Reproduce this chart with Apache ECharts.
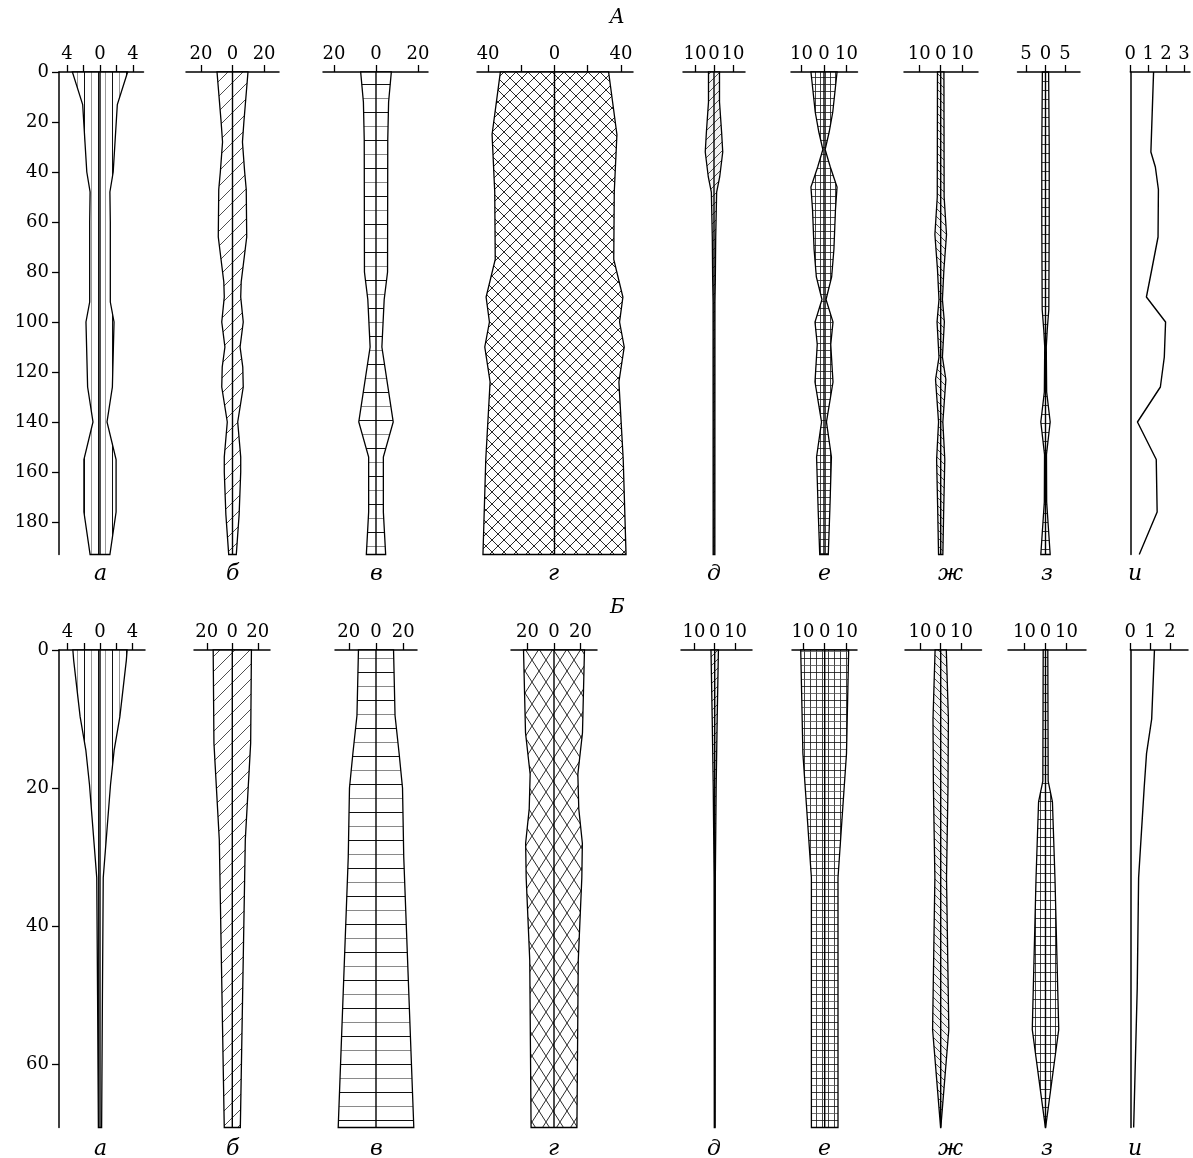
<!DOCTYPE html>
<html><head><meta charset="utf-8">
<script src="https://cdn.jsdelivr.net/npm/echarts@6/dist/echarts.min.js"></script>
<style>html,body{margin:0;padding:0;background:#fff}#c{width:1193px;height:1158px}</style>
</head><body><div id="c"></div>
<script>
// ================= DATA =================
const panelTitles = ['A', 'Б'];
const subLabels = ['а', 'б', 'в', 'г', 'д', 'е', 'ж', 'з', 'и'];

// y-axis tick labels (depth)
const yTicksTop = [0, 20, 40, 60, 80, 100, 120, 140, 160, 180];
const yTicksBot = [0, 20, 40, 60];
const depthMaxTop = 193;
const depthMaxBot = 69.2;

// x tick / label values
const xTicksTop = [[-4,-2,0,2,4],[-20,0,20],[-20,0,20],[-40,-20,0,20,40],[-10,0,10],[-10,0,10],[-10,0,10],[-5,0,5],[0,1,2,3]];
const xLabelsTop = [[-4,0,4],[-20,0,20],[-20,0,20],[-40,0,40],[-10,0,10],[-10,0,10],[-10,0,10],[-5,0,5],[0,1,2,3]];
const xTicksBot = [[-4,-2,0,2,4],[-20,0,20],[-20,0,20],[-20,0,20],[-10,0,10],[-10,0,10],[-10,0,10],[-10,0,10],[0,1,2]];
const xLabelsBot = [[-4,0,4],[-20,0,20],[-20,0,20],[-20,0,20],[-10,0,10],[-10,0,10],[-10,0,10],[-10,0,10],[0,1,2]];

// Panel A profiles (depth, half-width value)
const A_a_d = [0,13,40,48,60,80,92,100,126,140,155,176,193];
const A_a_v = [3.35,2.1,1.6,1.2,1.25,1.25,1.25,1.7,1.5,0.85,1.95,1.95,1.2];
const A_b_d = [0,20,28,40,47,66,84,90,100,110,118,126,140,154,160,177,193];
const A_b_v = [9.8,7.2,6.3,7.7,8.7,9,5.5,5.2,6.8,4.8,6.5,6.8,3.3,5.2,5.2,4.2,2.4];
const A_v_d = [0,12,27,80,91,110,140,154,176,193];
const A_v_v = [7.3,6,5.6,5.5,3.9,2.8,8.2,3.5,3.5,4.6];
const A_g_d = [0,25,48,75,90,100,110,124,155,193];
const A_g_v = [32.6,37.6,36,35.7,41.2,39.2,42,38.8,41.4,43.1];
const A_dd_d = [0,12,24,32,42,48,66,83,92,193];
const A_dd_v = [2.9,2.9,4,4.6,3,1.4,0.9,0.7,0.5,0.45];
const A_e_d = [0,16,24,31,38,46,55,71,82,91,100,109,124,140,154,175,193];
const A_e_v = [5.8,3.9,2.3,0.5,2.8,5.8,5.1,4.4,3.4,0.9,4.0,3.0,4.0,1.1,3.3,2.6,1.9];
const A_zh_d = [0,50,65,79,91,100,114,123,140,155,175,193];
const A_zh_v = [1.5,1.6,2.7,1.5,0.8,1.7,0.8,2.4,1.0,1.9,1.4,1.0];
const A_z_d = [0,30,60,95,103,110,128,140,153,172,193];
const A_z_v = [0.8,0.95,0.95,0.85,0.45,0.2,0.3,1.2,0.25,0.3,1.2];
const A_i_d = [0,32,38,47,66,79,90,100,114,126,140,155,176,193];
const A_i_v = [1.3,1.15,1.4,1.57,1.55,1.2,0.9,1.97,1.9,1.68,0.4,1.45,1.5,0.5];

// Panel Б profiles
const B_a_d = [0,1.5,9.7,14.5,19.5,33,50,69.2];
const B_a_v = [3.35,3.25,2.45,1.75,1.3,0.4,0.3,0.2];
const B_b_d = [0,13.5,27.5,69.2];
const B_b_v = [15,14.4,10.2,6.3];
const B_v_d = [0,9.5,15,20,30,69.2];
const B_v_v = [12.9,14,17,19.5,20.4,27.8];
const B_g_d = [0,12,18,23,28,33,45,69.2];
const B_g_v = [23,21.5,18,18.7,21.4,21,18.3,17.3];
const B_dd_d = [0,10,20,33,69.2];
const B_dd_v = [1.8,1.2,0.7,0.3,0.2];
const B_e_d = [0,15,33,69.2];
const B_e_v = [11,10,6.1,6.1];
const B_zh_d = [0,10,20,33,55,69.2];
const B_zh_v = [2.7,3.7,3.5,2.8,3.9,0.05];
const B_z_d = [0,19,22,33,55,69.2];
const B_z_v = [1.1,1.27,3.3,4.5,6.3,0.05];
const B_i_d = [0,10,15,20,33,49,69.2];
const B_i_v = [1.22,1.08,0.82,0.7,0.42,0.35,0.17];

// ================= LAYOUT / STYLE =================
// per sub-chart: zero pixel, px per unit, axis left px, axis right px
const layoutTop = [
  [100, 8.25, 59, 143.5], [232.5, 1.58, 186, 279], [376, 2.1, 323, 428], [554.5, 1.66, 477, 633],
  [714, 1.9, 683, 745], [824, 2.25, 791, 857.5], [940.7, 2.15, 904, 978], [1045.5, 3.9, 1017.5, 1080],
  [1130.3, 17.9, 1130.3, 1190]
];
const layoutBot = [
  [100, 8.1, 59, 145], [232.3, 1.275, 194, 270], [376, 1.36, 335, 417], [554, 1.325, 511, 597],
  [714.7, 2.07, 681, 752], [824.7, 2.18, 792, 857], [940.7, 2.08, 905, 981.5], [1045.5, 2.1, 1008, 1086],
  [1130.3, 19.8, 1130.3, 1188]
];
const labelXs = [100, 232, 376, 554, 713, 824, 944, 1047, 1134];
const FONT = 'DejaVu Serif';

function mkPattern(w, h, draw, bg) {
  const c = document.createElement('canvas');
  c.width = w; c.height = h;
  const ctx = c.getContext('2d');
  ctx.fillStyle = bg || '#fff'; ctx.fillRect(0, 0, w, h);
  draw(ctx, w, h);
  return { image: c, repeat: 'repeat' };
}
function ln(ctx, x1, y1, x2, y2, col, lw) {
  ctx.beginPath(); ctx.strokeStyle = col; ctx.lineWidth = lw; ctx.moveTo(x1, y1); ctx.lineTo(x2, y2); ctx.stroke();
}
function diagUp(col, lw) { return (ctx, w, h) => { ln(ctx, 0, h, w, 0, col, lw); ln(ctx, -2, 2, 2, -2, col, lw); ln(ctx, w-2, h+2, w+2, h-2, col, lw); }; }
function diagDown(col, lw) { return (ctx, w, h) => { ln(ctx, 0, 0, w, h, col, lw); ln(ctx, -2, h-2, 2, h+2, col, lw); ln(ctx, w-2, -2, w+2, 2, col, lw); }; }

const P = {
  vert: mkPattern(14, 4, (c, w, h) => { ln(c, 0.5, 0, 0.5, h, '#111', 1); ln(c, 7.5, 0, 7.5, h, '#9a9a9a', 1); }),
  diagB: mkPattern(15, 15, diagUp('#222', 0.8)),
  horiz: mkPattern(4, 28, (c, w, h) => { ln(c, 0, 0.5, w, 0.5, '#111', 1); ln(c, 0, 14.5, w, 14.5, '#8a8a8a', 1); }),
  crossTop: mkPattern(12, 12, (c, w, h) => { ln(c, 0, 0, w, h, '#111', 0.9); ln(c, 0, h, w, 0, '#111', 0.9); }),
  crossBot: mkPattern(14, 22, (c, w, h) => { ln(c, 0, 0, w, h, '#111', 0.9); ln(c, 0, h, w, 0, '#111', 0.9); }),
  diagD: mkPattern(9, 9, diagUp('#222', 0.8), '#f2f2f2'),
  gridE: mkPattern(5, 7, (c, w, h) => { ln(c, 0.5, 0, 0.5, h, '#111', 0.8); ln(c, 0, 0.5, w, 0.5, '#222', 0.8); }),
  gridEb: mkPattern(6, 14, (c, w, h) => { ln(c, 0.5, 0, 0.5, h, '#111', 0.8); ln(c, 0, 0.5, w, 0.5, '#111', 0.8); ln(c, 0, 7.5, w, 7.5, '#555', 0.8); }),
  diagZh: mkPattern(8, 8, diagDown('#222', 0.8), '#f2f2f2'),
  gridZ: mkPattern(5, 9, (c, w, h) => { ln(c, 0.5, 0, 0.5, h, '#111', 0.8); ln(c, 0, 0.5, w, 0.5, '#111', 0.8); })
};

const panels = [
  { top: 72, depthMax: depthMaxTop, yTicks: yTicksTop, layout: layoutTop, xt: xTicksTop, xl: xLabelsTop, labelY: 576, titleY: 19,
    profiles: [[A_a_d, A_a_v], [A_b_d, A_b_v], [A_v_d, A_v_v], [A_g_d, A_g_v], [A_dd_d, A_dd_v], [A_e_d, A_e_v], [A_zh_d, A_zh_v], [A_z_d, A_z_v], [A_i_d, A_i_v]],
    pats: [P.vert, P.diagB, P.horiz, P.crossTop, P.diagD, P.gridE, P.diagZh, P.gridZ, null] },
  { top: 650, depthMax: depthMaxBot, yTicks: yTicksBot, layout: layoutBot, xt: xTicksBot, xl: xLabelsBot, labelY: 1151, titleY: 609,
    profiles: [[B_a_d, B_a_v], [B_b_d, B_b_v], [B_v_d, B_v_v], [B_g_d, B_g_v], [B_dd_d, B_dd_v], [B_e_d, B_e_v], [B_zh_d, B_zh_v], [B_z_d, B_z_v], [B_i_d, B_i_v]],
    pats: [P.vert, P.diagB, P.horiz, P.crossBot, P.diagD, P.gridEb, P.diagZh, P.gridZ, null] }
];

function kiteRender(depths, vals, pat) {
  return function (params, api) {
    if (params.dataIndex !== 0) return null;
    const right = [], left = [];
    for (let i = 0; i < depths.length; i++) {
      right.push(api.coord([vals[i], depths[i]]));
      left.push(api.coord([-vals[i], depths[i]]));
    }
    const pts = right.concat(left.reverse());
    const t = api.coord([0, depths[0]]), b = api.coord([0, depths[depths.length - 1]]);
    return { type: 'group', children: [
      { type: 'polygon', shape: { points: pts }, style: { fill: pat, stroke: '#000', lineWidth: 1.3 } },
      { type: 'line', shape: { x1: t[0], y1: t[1], x2: b[0], y2: b[1] }, style: { stroke: '#000', lineWidth: 1.4 } }
    ] };
  };
}

const grid = [], xAxis = [], yAxis = [], series = [], graphic = [];
panels.forEach((pn, pi) => {
  const height = pn.depthMax * (pi === 0 ? 2.5 : 6.9);
  pn.layout.forEach((L, k) => {
    const [zero, s, lft, rgt] = L;
    const gi = grid.length;
    grid.push({ left: lft, top: pn.top, width: rgt - lft, height: height });
    xAxis.push({
      gridIndex: gi, type: 'value', position: 'top',
      min: (lft - zero) / s, max: (rgt - zero) / s,
      axisLine: { show: true, onZero: false, lineStyle: { color: '#000', width: 1.5 } },
      axisTick: { show: true, customValues: pn.xt[k], length: 7, lineStyle: { color: '#000', width: 1.3 } },
      axisLabel: { show: true, customValues: pn.xl[k], margin: 9, color: '#000', fontFamily: FONT, fontSize: 18,
        formatter: v => String(Math.abs(Math.round(v))) },
      splitLine: { show: false }
    });
    const isFirst = k === 0, isLast = k === 8;
    yAxis.push({
      gridIndex: gi, type: 'value', inverse: true, min: 0, max: pn.depthMax,
      show: isFirst || isLast,
      axisLine: { show: true, onZero: false, lineStyle: { color: '#000', width: 1.5 } },
      axisTick: { show: isFirst, customValues: pn.yTicks, length: 7, lineStyle: { color: '#000', width: 1.3 } },
      axisLabel: { show: isFirst, customValues: pn.yTicks, margin: 10, color: '#000', fontFamily: FONT, fontSize: 18 },
      splitLine: { show: false }
    });
    const [ds, vs] = pn.profiles[k];
    if (isLast) {
      series.push({ type: 'line', xAxisIndex: gi, yAxisIndex: gi, symbol: 'none', silent: true,
        lineStyle: { color: '#000', width: 1.4 }, data: ds.map((d, i) => [vs[i], d]) });
    } else {
      series.push({ type: 'custom', xAxisIndex: gi, yAxisIndex: gi, silent: true,
        renderItem: kiteRender(ds, vs, pn.pats[k]), data: ds.map((d, i) => [vs[i], d]) });
    }
    graphic.push({ type: 'text', left: labelXs[k] - 6, top: pn.labelY - 13,
      style: { text: subLabels[k], font: 'italic 22px "DejaVu Serif"', fill: '#000' } });
  });
  graphic.push({ type: 'text', left: 610, top: pn.titleY - 11,
    style: { text: panelTitles[pi], font: 'italic 20px "DejaVu Serif"', fill: '#000' } });
});

const chart = echarts.init(document.getElementById('c'), null, { renderer: 'canvas' });
chart.setOption({ animation: false, backgroundColor: '#fff', grid, xAxis, yAxis, series, graphic });
</script></body></html>
